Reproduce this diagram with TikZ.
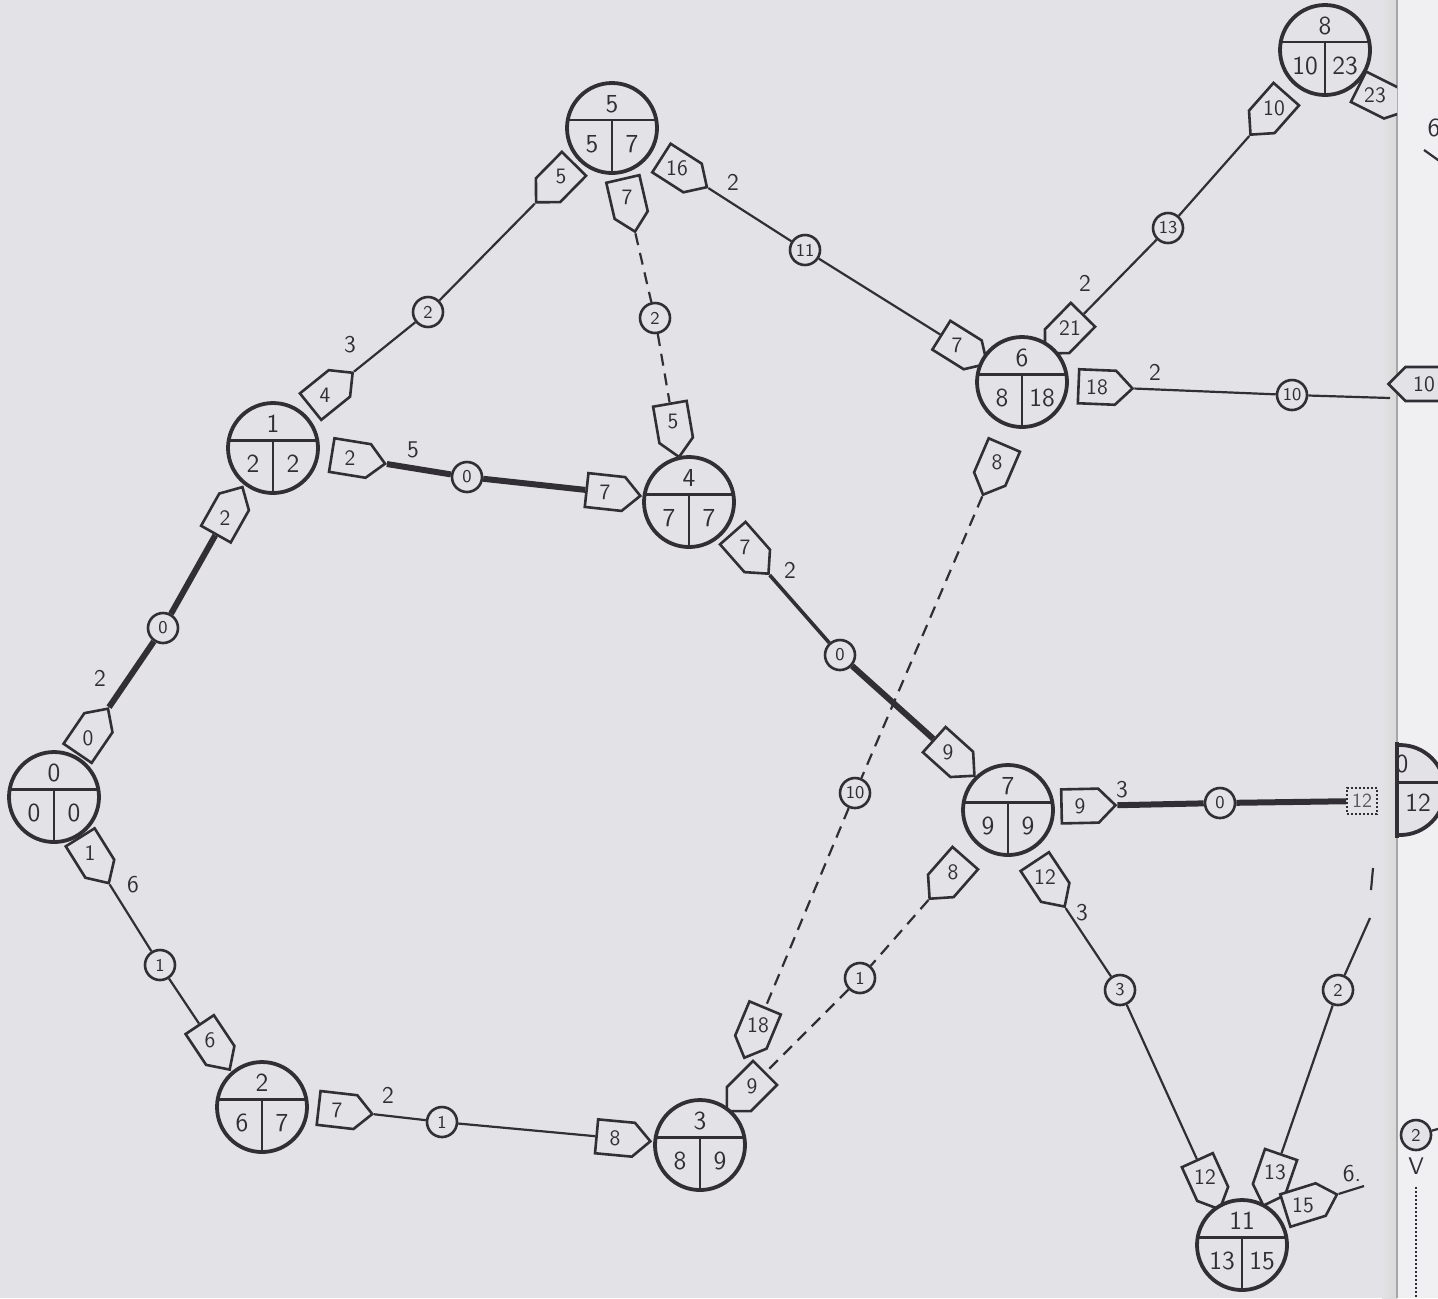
\documentclass[tikz,border=0pt]{standalone}
\usepackage{fontspec}
\usetikzlibrary{calc,shapes.symbols}

\definecolor{ink}{HTML}{322E36}
\definecolor{paper}{HTML}{E3E3E7}

\tikzset{
  event/.style={circle, draw=ink, fill=paper, line width=1.9pt, minimum size=45pt, inner sep=0pt},
  evline/.style={draw=ink, line width=1.3pt},
  evtext/.style={font=\sffamily\fontsize{13}{13}\selectfont, text=ink, inner sep=0pt},
  tagbox/.style={signal, signal to=east, draw=ink, fill=paper, line width=1.3pt,
    minimum width=27pt, minimum height=17pt, inner sep=0pt},
  tagtext/.style={font=\sffamily\fontsize{11}{11}\selectfont, text=ink, inner sep=0pt},
  float/.style={circle, draw=ink, fill=paper, line width=1.3pt, minimum size=15pt, inner sep=0pt,
    font=\sffamily\fontsize{9}{9}\selectfont, text=ink},
  dur/.style={font=\sffamily\fontsize{12}{12}\selectfont, text=ink, inner sep=0pt},
  act/.style={draw=ink, line width=1.1pt},
  crit/.style={draw=ink, line width=3pt},
  dummy/.style={draw=ink, line width=1.1pt, dash pattern=on 6pt off 4pt},
}

% event circle: name, position, number, early, late
\newcommand{\event}[5]{%
  \node[event] (#1) at (#2) {};
  \draw[evline] ($(#1.center)+(170:22.5pt)$) -- ($(#1.center)+(10:22.5pt)$);
  \draw[evline] ($(#1.center)+(0,3.9pt)$) -- (#1.south);
  \node[evtext] at ($(#1.center)+(0,12pt)$) {#3};
  \node[evtext] at ($(#1.center)+(-10pt,-8pt)$) {#4};
  \node[evtext] at ($(#1.center)+(10pt,-8pt)$) {#5};}

% arrow tag: name, position, aimed at, text, turn (0 out, 180 in)
\newcommand{\tagat}[5]{%
  \path let \p1=($(#3)-(#2)$), \n1={atan2(\y1,\x1)+#5} in
    node[tagbox, rotate=\n1] (#1) at (#2) {};
  \node[tagtext] at (#1.center) {#4};}

\begin{document}
\begin{tikzpicture}[x=0.5pt,y=-0.5pt]
  \useasboundingbox (0,0) rectangle (1438,1298);
  % sheet and fold
  \fill[paper] (0,0) rectangle (1438,1298);
  \fill[paper!55!white] (1397,0) rectangle (1438,1298);
  \shade[left color=paper, right color=gray!30] (1382,0) rectangle (1397,1298);
  \draw[gray!70, line width=0.8pt] (1397,0) -- (1397,1298);

  % float circles
  \node[float] (f01) at (163,628) {0};
  \node[float] (f02) at (160,965) {1};
  \node[float] (f15) at (428,312) {2};
  \node[float] (f14) at (467,477) {0};
  \node[float] (f23) at (442,1122) {1};
  \node[float] (f54) at (655,318) {2};
  \node[float] (f56) at (805,250) {11};
  \node[float] (f47) at (840,655) {0};
  \node[float] (f36) at (855,793) {10};
  \node[float] (f37) at (860,978) {1};
  \node[float] (f68) at (1168,228) {13};
  \node[float] (f6x) at (1292,395) {10};
  \node[float] (f7x) at (1220,803) {0};
  \node[float] (f711) at (1120,990) {3};
  \node[float] (fx11) at (1338,990) {2};

  % loose ends
  \coordinate (end8) at (1445,130);
  \coordinate (end11) at (1364,1186);
  \coordinate (fold6) at (1390,398);
  \coordinate (cut0) at (1373,868);
  \coordinate (cut1) at (1371,890);
  \coordinate (cut2) at (1370,918);

  % tags
  \tagat{t01a}{88,738}{f01}{0}{0}
  \tagat{t01b}{225,518}{f01}{2}{180}
  \tagat{t02a}{90,853}{f02}{1}{0}
  \tagat{t02b}{210,1040}{f02}{6}{180}
  \tagat{t15a}{325,395}{f15}{4}{0}
  \tagat{t15b}{561,177}{f15}{5}{0}
  \tagat{t14a}{350,458}{f14}{2}{0}
  \tagat{t14b}{605,492}{f14}{7}{180}
  \tagat{t23a}{337,1110}{f23}{7}{0}
  \tagat{t23b}{615,1138}{f23}{8}{180}
  \tagat{t54a}{627,197}{f54}{7}{0}
  \tagat{t54b}{673,422}{f54}{5}{180}
  \tagat{t56a}{677,168}{f56}{16}{0}
  \tagat{t56b}{957,345}{f56}{7}{180}
  \tagat{t47a}{745,547}{f47}{7}{0}
  \tagat{t47b}{948,752}{f47}{9}{180}
  \tagat{t63a}{997,462}{f36}{8}{0}
  \tagat{t63b}{758,1025}{f36}{18}{180}
  \tagat{t73a}{953,872}{f37}{8}{0}
  \tagat{t73b}{752,1086}{f37}{9}{180}
  \tagat{t86a}{1274,108}{f68}{10}{0}
  \tagat{t86b}{1070,328}{f68}{21}{180}
  \tagat{t6xa}{1097,387}{f6x}{18}{0}
  \tagat{t7xa}{1080,806}{f7x}{9}{0}
  \tagat{t711a}{1045,877}{f711}{12}{0}
  \tagat{t711b}{1205,1177}{f711}{12}{180}
  \tagat{tx11b}{1275,1172}{fx11}{13}{180}
  \tagat{t11xa}{1303,1205}{end11}{15}{0}
  \begin{scope}
    \clip (1250,0) rectangle (1397,200);
    \tagat{t8xa}{1375,95}{end8}{23}{0}
  \end{scope}
  \node[draw=ink, densely dotted, line width=1pt, minimum width=15pt, minimum height=13pt,
    inner sep=0pt, font=\sffamily\fontsize{10}{10}\selectfont, text=ink!80] (t7xb) at (1362,801) {12};
  \node[tagbox, rotate=180] (t6xb) at (1424,384) {};
  \node[tagtext] at (1424,384) {10};

  % events
  \event{e0}{54,797}{0}{0}{0}
  \event{e1}{273,448}{1}{2}{2}
  \event{e2}{262,1107}{2}{6}{7}
  \event{e3}{700,1145}{3}{8}{9}
  \event{e4}{689,502}{4}{7}{7}
  \event{e5}{612,128}{5}{5}{7}
  \event{e6}{1022,382}{6}{8}{18}
  \event{e7}{1008,810}{7}{9}{9}
  \event{e8}{1325,50}{8}{10}{23}
  \event{e11}{1242,1245}{11}{13}{15}
  % event cut by the fold
  \begin{scope}
    \clip (1397,700) rectangle (1460,900);
    \node[event] (px) at (1400,790) {};
    \draw[evline] ($(px.center)+(170:22.5pt)$) -- ($(px.center)+(10:22.5pt)$);
  \end{scope}
  \draw[ink, line width=1.6pt] (1397,742) -- (1397,838);
  \node[evtext] at (1402,764) {0};
  \node[evtext] at (1418,803) {12};

  % activities
  \draw[crit] (t01a) -- (f01) -- (t01b);
  \draw[act] (t02a) -- (f02) -- (t02b);
  \draw[act] (t15a) -- (f15) -- (t15b);
  \draw[crit] (t14a) -- (f14) -- (t14b);
  \draw[act] (t23a) -- (f23) -- (t23b);
  \draw[dummy] (t54a) -- (f54) -- (t54b);
  \draw[act] (t56a) -- (f56) -- (t56b);
  \draw[act, line width=1.8pt] (t47a) -- (f47);
  \draw[crit] (f47) -- (t47b);
  \draw[dummy] (t63a) -- (f36) -- (t63b);
  \draw[dummy] (t73a) -- (f37) -- (t73b);
  \draw[act] (t86a) -- (f68) -- (t86b);
  \draw[act] (t6xa) -- (f6x) -- (fold6);
  \draw[crit] (t7xa) -- (f7x) -- (t7xb);
  \draw[act] (t711a) -- (f711) -- (t711b);
  \draw[act] (cut0) -- (cut1);
  \draw[act] (cut2) -- (fx11) -- (tx11b);
  \draw[act] (t11xa) -- (end11);

  % durations
  \node[dur] (d01) at (100,678) {2};
  \node[dur] (d02) at (133,885) {6};
  \node[dur] (d15) at (350,345) {3};
  \node[dur] (d14) at (413,450) {5};
  \node[dur] (d23) at (388,1095) {2};
  \node[dur] (d56) at (733,182) {2};
  \node[dur] (d47) at (790,570) {2};
  \node[dur] (d86) at (1085,283) {2};
  \node[dur] (d6x) at (1155,372) {2};
  \node[dur] (d7x) at (1122,790) {3};
  \node[dur] (d711) at (1082,913) {3};
  \node[dur] (d11x) at (1352,1174) {6.};

  % pieces past the fold
  \node[evtext] (r6) at (1434,128) {6};
  \coordinate (r6a) at (1424,150);
  \coordinate (r6b) at (1445,165);
  \draw[act] (r6a) -- (r6b);
  \node[float] (fbr) at (1416,1135) {2};
  \coordinate (brend) at (1445,1127);
  \draw[act] (fbr) -- (brend);
  \node[evtext, font=\sffamily\fontsize{12}{12}\selectfont] (vmark) at (1416,1166) {V};
  \coordinate (dotend) at (1416,1298);
  \draw[ink, densely dotted, line width=1pt] ($(vmark.south)+(0,-6pt)$) -- (dotend);
\end{tikzpicture}
\end{document}
